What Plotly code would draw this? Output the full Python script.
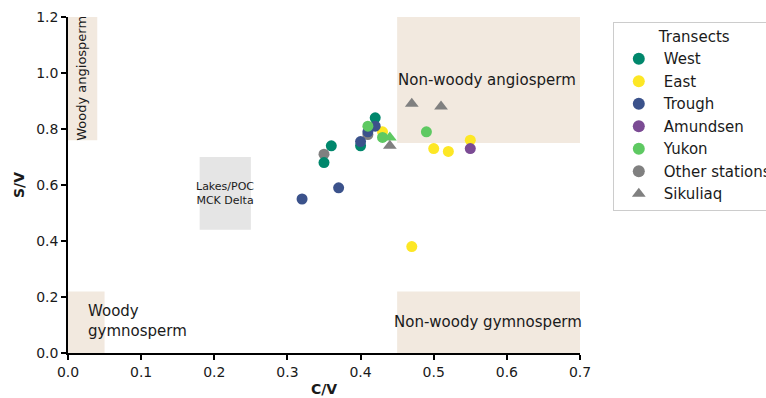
import plotly.graph_objects as go

# C/V and S/V lignin phenol ratios by transect
west_cv = [0.42, 0.40, 0.36, 0.35]
west_sv = [0.84, 0.74, 0.74, 0.68]

east_cv = [0.43, 0.55, 0.50, 0.52, 0.47]
east_sv = [0.79, 0.76, 0.73, 0.72, 0.38]

trough_cv = [0.42, 0.41, 0.40, 0.37, 0.32]
trough_sv = [0.81, 0.79, 0.755, 0.59, 0.55]

amundsen_cv = [0.55]
amundsen_sv = [0.73]

yukon_cv = [0.41, 0.43, 0.49]
yukon_sv = [0.81, 0.77, 0.79]

other_cv = [0.41, 0.35]
other_sv = [0.78, 0.71]

sikuliaq_cv = [0.47, 0.51, 0.44, 0.44]
sikuliaq_sv = [0.89, 0.88, 0.77, 0.74]
sikuliaq_col = ["#808080", "#808080", "#5ec962", "#808080"]

series = [
    ("Other stations", other_cv, other_sv, "#808080", "circle"),
    ("West", west_cv, west_sv, "#00876c", "circle"),
    ("East", east_cv, east_sv, "#fde725", "circle"),
    ("Trough", trough_cv, trough_sv, "#3b528b", "circle"),
    ("Amundsen", amundsen_cv, amundsen_sv, "#7b4b94", "circle"),
    ("Yukon", yukon_cv, yukon_sv, "#5ec962", "circle"),
]
legend_rank = {"West": 1, "East": 2, "Trough": 3, "Amundsen": 4, "Yukon": 5,
               "Other stations": 6, "Sikuliaq": 7}

# Source end-member regions: (x0, x1, y0, y1, colour)
regions = [
    (0.0, 0.04, 0.76, 1.2, "#f2e9df"),
    (0.0, 0.05, 0.0, 0.22, "#f2e9df"),
    (0.18, 0.25, 0.44, 0.70, "#e5e5e5"),
    (0.45, 0.70, 0.75, 1.2, "#f2e9df"),
    (0.45, 0.70, 0.0, 0.22, "#f2e9df"),
]

fig = go.Figure()

for x0, x1, y0, y1, col in regions:
    fig.add_shape(type="rect", x0=x0, x1=x1, y0=y0, y1=y1, xref="x", yref="y",
                  fillcolor=col, line_width=0, layer="below")

for name, xs, ys, col, sym in series:
    fig.add_trace(go.Scatter(
        x=xs, y=ys, mode="markers", name=name,
        legendrank=legend_rank[name],
        marker=dict(color=col, size=11, symbol=sym, line_width=0),
    ))

fig.add_trace(go.Scatter(
    x=sikuliaq_cv, y=sikuliaq_sv, mode="markers", name="Sikuliaq",
    legendrank=legend_rank["Sikuliaq"],
    marker=dict(color=sikuliaq_col, size=12, symbol="triangle-up", line_width=0),
))

font = "DejaVu Sans"
ann = [
    dict(x=0.018, y=0.98, text="Woody angiosperm", textangle=-90, font_size=13),
    dict(x=0.024, y=0.115, text="Woody<br>gymnosperm", xanchor="left", align="left", font_size=15),
    dict(x=0.215, y=0.57, text="Lakes/POC<br>MCK Delta", font_size=11),
    dict(x=0.449, y=0.975, text="Non-woody angiosperm", xanchor="left", font_size=15),
    dict(x=0.443, y=0.11, text="Non-woody gymnosperm", xanchor="left", font_size=15),
]
for a in ann:
    fs = a.pop("font_size")
    fig.add_annotation(**a, xref="x", yref="y", showarrow=False,
                       font=dict(family=font, size=fs, color="#1a1a1a"))

axis_common = dict(
    showgrid=False, zeroline=False, showline=True, linecolor="black", linewidth=1.5,
    ticks="outside", ticklen=5, tickwidth=1.5, tickcolor="black",
    tickfont=dict(family=font, size=14, color="#1a1a1a"),
    mirror=False, automargin=False,
)

fig.update_layout(
    width=766, height=398,
    margin=dict(l=68, r=186, t=17, b=45),
    plot_bgcolor="white", paper_bgcolor="white",
    font=dict(family=font, color="#1a1a1a"),
    xaxis=dict(range=[0, 0.7], tickvals=[0, 0.1, 0.2, 0.3, 0.4, 0.5, 0.6, 0.7],
               ticktext=["0.0", "0.1", "0.2", "0.3", "0.4", "0.5", "0.6", "0.7"],
               title=dict(text="<b>C/V</b>", font=dict(family=font, size=14), standoff=6),
               **axis_common),
    yaxis=dict(range=[0, 1.2], tickvals=[0, 0.2, 0.4, 0.6, 0.8, 1.0, 1.2],
               ticktext=["0.0", "0.2", "0.4", "0.6", "0.8", "1.0", "1.2"],
               title=dict(text="<b>S/V</b>", font=dict(family=font, size=14), standoff=8),
               **axis_common),
    legend=dict(
        title=dict(text="Transects", side="top center", font=dict(family=font, size=15)),
        xref="container", yref="container",
        x=0.8, y=0.945, xanchor="left", yanchor="top",
        bordercolor="#cccccc", borderwidth=1, bgcolor="white",
        font=dict(family=font, size=15, color="#1a1a1a"),
        itemsizing="constant", tracegroupgap=0, itemwidth=40,
    ),
    showlegend=True,
)

fig.write_html("out.html")
